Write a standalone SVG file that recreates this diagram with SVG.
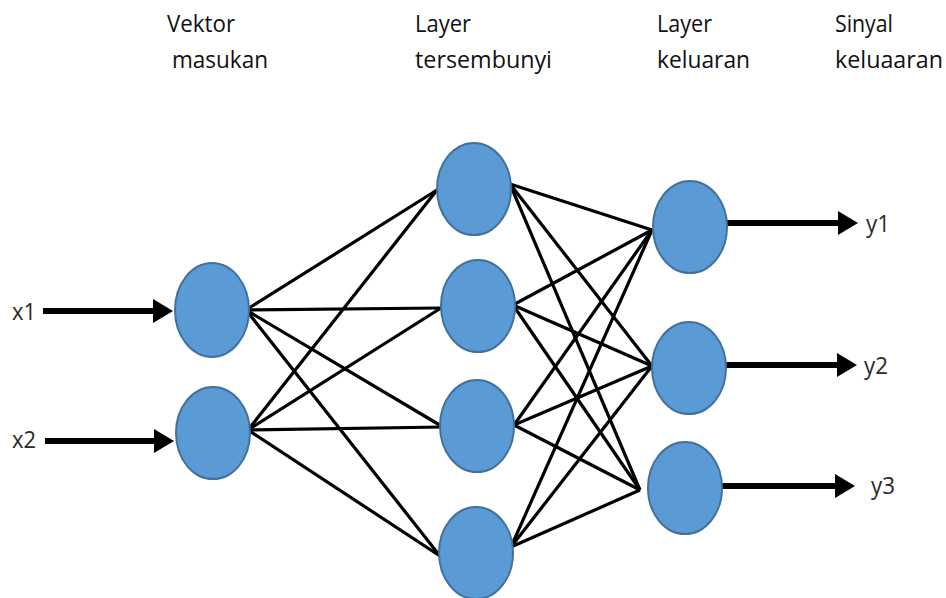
<svg xmlns="http://www.w3.org/2000/svg" width="946" height="598" viewBox="0 0 946 598">
<style>
.bg{fill:#ffffff}
.node{fill:#5b9bd5;stroke:#41719c;stroke-width:2}
.edge{stroke:#000;stroke-width:3.2;fill:none}
.io{stroke:#000;stroke-width:6;fill:none}
.h{font-family:"Open Sans","Liberation Sans",sans-serif;font-size:24px;fill:#111}
.lbl{font-family:"Open Sans","Liberation Sans",sans-serif;font-size:24px;fill:#2a2a2a}
</style>
<defs>
<marker id="ah" markerUnits="userSpaceOnUse" markerWidth="22" markerHeight="26" refX="2" refY="12" orient="auto">
<path d="M0,0 L20,12 L0,24 Z" fill="#000"/>
</marker>
</defs>
<rect class="bg" x="0" y="0" width="946" height="598"/>
<g id="headers">
<text class="h" x="167" y="32" textLength="68" lengthAdjust="spacingAndGlyphs">Vektor</text>
<text class="h" x="172" y="68" textLength="96" lengthAdjust="spacingAndGlyphs">masukan</text>
<text class="h" x="415" y="32" textLength="56" lengthAdjust="spacingAndGlyphs">Layer</text>
<text class="h" x="415" y="68" textLength="137" lengthAdjust="spacingAndGlyphs">tersembunyi</text>
<text class="h" x="657" y="32" textLength="55" lengthAdjust="spacingAndGlyphs">Layer</text>
<text class="h" x="657" y="68" textLength="93" lengthAdjust="spacingAndGlyphs">keluaran</text>
<text class="h" x="835" y="32" textLength="58" lengthAdjust="spacingAndGlyphs">Sinyal</text>
<text class="h" x="835" y="68" textLength="108" lengthAdjust="spacingAndGlyphs">keluaaran</text>
</g>
<g id="connectors">
<line class="edge" x1="246" y1="310" x2="437" y2="190"/>
<line class="edge" x1="246" y1="310" x2="441" y2="308"/>
<line class="edge" x1="246" y1="310" x2="443" y2="427"/>
<line class="edge" x1="246" y1="310" x2="440" y2="556"/>
<line class="edge" x1="248" y1="430" x2="437" y2="190"/>
<line class="edge" x1="248" y1="430" x2="441" y2="308"/>
<line class="edge" x1="248" y1="430" x2="443" y2="427"/>
<line class="edge" x1="248" y1="430" x2="440" y2="556"/>
<line class="edge" x1="510" y1="184" x2="652" y2="230"/>
<line class="edge" x1="510" y1="184" x2="652" y2="366"/>
<line class="edge" x1="510" y1="184" x2="640" y2="490"/>
<line class="edge" x1="513" y1="305" x2="652" y2="230"/>
<line class="edge" x1="513" y1="305" x2="652" y2="366"/>
<line class="edge" x1="513" y1="305" x2="640" y2="490"/>
<line class="edge" x1="514" y1="425" x2="652" y2="230"/>
<line class="edge" x1="514" y1="425" x2="652" y2="366"/>
<line class="edge" x1="514" y1="425" x2="640" y2="490"/>
<line class="edge" x1="511" y1="547" x2="652" y2="230"/>
<line class="edge" x1="511" y1="547" x2="652" y2="366"/>
<line class="edge" x1="511" y1="547" x2="640" y2="490"/>
<line class="io" x1="43" y1="311" x2="155" y2="311" marker-end="url(#ah)"/>
<line class="io" x1="45" y1="441" x2="156" y2="441" marker-end="url(#ah)"/>
<line class="io" x1="727" y1="223" x2="840" y2="223" marker-end="url(#ah)"/>
<line class="io" x1="726" y1="365" x2="839" y2="365" marker-end="url(#ah)"/>
<line class="io" x1="722" y1="486" x2="837" y2="486" marker-end="url(#ah)"/>
</g>
<g id="in1"><ellipse class="node" cx="212" cy="310" rx="37" ry="47"/></g>
<g id="in2"><ellipse class="node" cx="213" cy="433" rx="37" ry="46"/></g>
<g id="h1"><ellipse class="node" cx="474" cy="189" rx="37" ry="46"/></g>
<g id="h2"><ellipse class="node" cx="478" cy="306" rx="37" ry="46"/></g>
<g id="h3"><ellipse class="node" cx="477" cy="426" rx="37" ry="46"/></g>
<g id="h4"><ellipse class="node" cx="476" cy="553" rx="37" ry="46"/></g>
<g id="o1"><ellipse class="node" cx="690" cy="227" rx="37" ry="46"/></g>
<g id="o2"><ellipse class="node" cx="689" cy="368" rx="37" ry="46"/></g>
<g id="o3"><ellipse class="node" cx="685" cy="488" rx="37" ry="46"/></g>
<g id="labels">
<text class="lbl" x="12" y="320" textLength="24" lengthAdjust="spacingAndGlyphs">x1</text>
<text class="lbl" x="12" y="448" textLength="24" lengthAdjust="spacingAndGlyphs">x2</text>
<text class="lbl" x="866" y="232" textLength="24" lengthAdjust="spacingAndGlyphs">y1</text>
<text class="lbl" x="864" y="374" textLength="24" lengthAdjust="spacingAndGlyphs">y2</text>
<text class="lbl" x="871" y="494" textLength="24" lengthAdjust="spacingAndGlyphs">y3</text>
</g>
</svg>
